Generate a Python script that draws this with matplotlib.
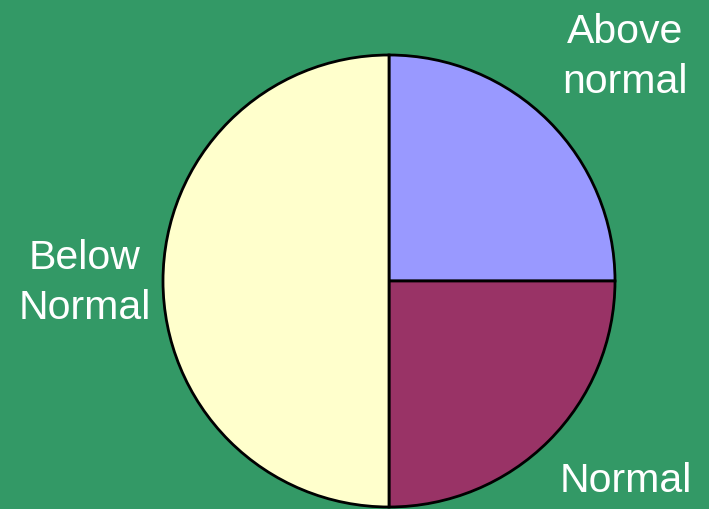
import matplotlib.pyplot as plt

labels = ['Above\nnormal', 'Normal', 'Below\nNormal']
shares = [25, 25, 50]
colors = ['#9999FF', '#993366', '#FFFFCC']
label_pos = [(625, 57), (626, 481), (85, 283)]  # pixel coords, from top-left

W, H = 709, 510
fig = plt.figure(figsize=(W / 100, H / 100), dpi=100, facecolor='#339966')
ax = fig.add_axes([0, 0, 1, 1])
ax.set_facecolor('#339966')

ax.pie(shares, colors=colors, startangle=90, counterclock=False,
       center=(389, H - 282), radius=226, frame=True,
       wedgeprops=dict(edgecolor='black', linewidth=2))
ax.set_xlim(0, W)
ax.set_ylim(0, H)
ax.set_aspect('equal')
ax.axis('off')

for lab, (x, y) in zip(labels, label_pos):
    ax.text(x, H - y, lab, color='white', fontsize=29.5, family='Liberation Sans',
            ha='center', va='center', linespacing=1.42)

fig.savefig('out.png', dpi=100, facecolor=fig.get_facecolor())
